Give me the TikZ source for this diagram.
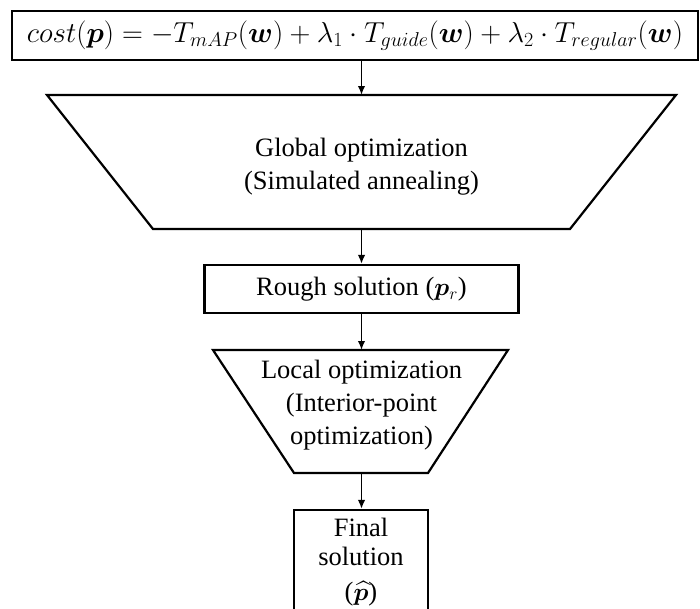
\documentclass[tikz,border=0pt]{standalone}
\usepackage{amsmath,amssymb,bm}
\usepackage{graphicx}
\usepackage{fontspec}
\setmainfont{Liberation Serif}
\usetikzlibrary{arrows.meta}
\begin{document}
\begin{tikzpicture}[x=1pt,y=-1pt,
  frame/.style={draw,line width=2.2pt,inner sep=0pt,align=center,font=\fontsize{26.5}{32}\selectfont},
  shapeline/.style={draw,line width=2.2pt,line join=miter},
  txt/.style={align=center,inner sep=0pt,font=\fontsize{26.5}{33}\selectfont},
  flow/.style={-{Latex[length=9pt,width=7.5pt]},line width=1.8pt}]
\useasboundingbox (0,0) rectangle (700,608);
% top cost box
\node[frame,minimum width=686pt,minimum height=49pt] (cost) at (355,35.5)
  {\resizebox{656pt}{!}{$cost(\boldsymbol{p}) = -T_{mAP}(\boldsymbol{w}) + \lambda_1 \cdot T_{guide}(\boldsymbol{w}) + \lambda_2 \cdot T_{regular}(\boldsymbol{w})$}};
% global optimization trapezoid
\draw[shapeline] (47,95) -- (676,95) -- (570,229) -- (153,229) -- cycle;
\coordinate (gtop) at (361.5,95);
\coordinate (gbot) at (361.5,229);
\node[txt] (global) at (361.5,167) {Global optimization\\(Simulated annealing)};
% rough solution
\node[frame,minimum width=314pt,minimum height=48pt] (rough) at (361.5,289) {Rough solution ($\boldsymbol{p}_r$)};
% local optimization trapezoid
\draw[shapeline] (213,350) -- (508,350) -- (428,473) -- (294,473) -- cycle;
\coordinate (ltop) at (361.5,350);
\coordinate (lbot) at (361.5,473);
\node[txt] (local) at (361.5,405) {Local optimization\\(Interior-point\\optimization)};
% final solution (bottom edge runs past the picture's lower border)
\node[frame,minimum width=134pt,minimum height=104pt,font=\fontsize{26.5}{29}\selectfont] (final) at (361,562) {Final\\solution\\[6pt]($\widehat{\boldsymbol{p}}$)};
% connectors
\draw[flow] (cost.south -| gtop) -- (gtop);
\draw[flow] (gbot) -- (gbot |- rough.north);
\draw[flow] (rough.south -| ltop) -- (ltop);
\draw[flow] (lbot) -- (lbot |- final.north);
\end{tikzpicture}
\end{document}
